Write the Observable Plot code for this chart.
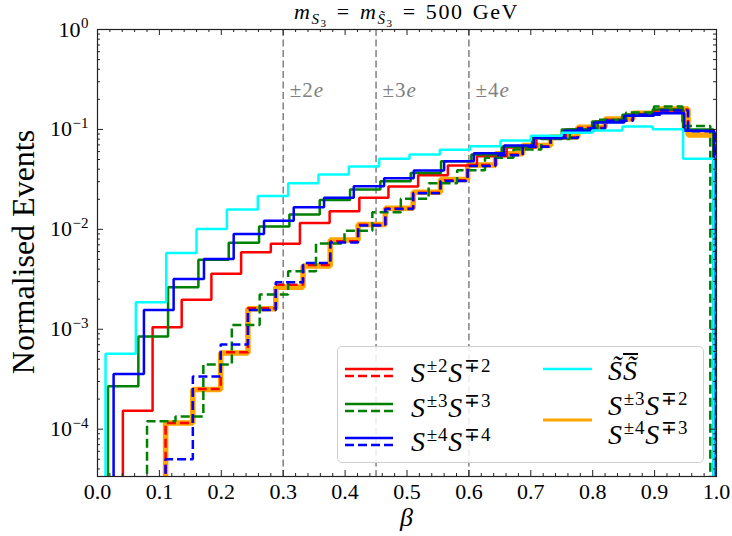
<!DOCTYPE html>
<html><head><meta charset="utf-8">
<script src="https://cdn.jsdelivr.net/npm/d3@7"></script>
<script src="https://cdn.jsdelivr.net/npm/@observablehq/plot@0.6"></script>
<style>
body{margin:0;background:#fff;}
#wrap{position:relative;width:732px;height:536px;font-family:"Liberation Serif",serif;color:#000;overflow:hidden;}
#wrap svg{position:absolute;left:0;top:0;}
.ov{position:absolute;white-space:nowrap;line-height:1;}
.sup{position:relative;font-style:normal;}
</style></head><body><div id="wrap"></div>
<script>
// ---------------- data ----------------
const xMajor = [0,0.1,0.2,0.3,0.4,0.5,0.6,0.7,0.8,0.9,1.0];
const xTickLabels = ["0.0","0.1","0.2","0.3","0.4","0.5","0.6","0.7","0.8","0.9","1.0"];
const yMajor = [1,1e-1,1e-2,1e-3,1e-4];
const yTickExps = ["0","\u22121","\u22122","\u22123","\u22124"];
const chargeLines = [0.3,0.45,0.6];
const chargeLabels = ["\u00b12","\u00b13","\u00b14"];

// bin edges (per histogram) and normalised event counts
const redSolidEdges = [0.041,0.089,0.136,0.184,0.232,0.280,0.327,0.375,0.423,0.470,0.518,0.566,0.613,0.661,0.709,0.757,0.804,0.852,0.900,0.947,0.995];
const redSolid = [1.53e-4,1.05e-3,1.97e-3,3.59e-3,5.9e-3,7.16e-3,1.16e-2,1.52e-2,2.07e-2,2.68e-2,3.48e-2,4.35e-2,5.4e-2,6.6e-2,8.2e-2,0.100,0.120,0.140,0.155,0.098];
const greenSolidEdges = [0.017,0.066,0.114,0.163,0.212,0.261,0.310,0.359,0.408,0.457,0.506,0.555,0.604,0.653,0.702,0.750,0.799,0.848,0.897,0.946,0.995];
const greenSolid = [2.69e-4,8.45e-4,2.64e-3,4.95e-3,7.33e-3,1.07e-2,1.41e-2,1.97e-2,2.5e-2,3.03e-2,3.67e-2,4.8e-2,5.6e-2,6.7e-2,8.2e-2,0.100,0.120,0.140,0.158,0.100];
const blueSolidEdges = [0.026,0.075,0.123,0.172,0.220,0.269,0.317,0.366,0.414,0.463,0.511,0.560,0.608,0.657,0.705,0.754,0.802,0.851,0.899,0.948,0.996];
const blueSolid = [3.56e-4,1.56e-3,3.19e-3,5.06e-3,9.0e-3,1.22e-2,1.66e-2,2.07e-2,2.70e-2,3.25e-2,3.88e-2,4.8e-2,5.78e-2,6.9e-2,8.2e-2,0.097,0.117,0.137,0.145,0.097];
const cyanEdges = [0.013,0.062,0.111,0.160,0.209,0.259,0.308,0.357,0.406,0.455,0.504,0.553,0.602,0.651,0.700,0.750,0.799,0.848,0.897,0.946,0.995];
const cyanVals = [5.7e-4,1.86e-3,5.8e-3,1.01e-2,1.58e-2,2.15e-2,2.89e-2,3.54e-2,4.26e-2,5.08e-2,5.61e-2,6.25e-2,6.79e-2,7.74e-2,8.63e-2,9.25e-2,9.75e-2,0.107,0.1005,0.0508];
const dashedEdges = [0.110,0.154,0.199,0.243,0.288,0.332,0.376,0.421,0.465,0.510,0.554,0.598,0.643,0.687,0.732,0.776,0.820,0.865,0.909,0.954,0.998];
const redDashed = [1.15e-4,2.53e-4,5.89e-4,1.62e-3,2.79e-3,4.4e-3,7.6e-3,1.11e-2,1.62e-2,2.32e-2,3.1e-2,4.4e-2,5.6e-2,6.8e-2,8.3e-2,0.104,0.125,0.143,0.158,0.097];
const blueDashed = [5.0e-5,3.36e-4,7.03e-4,1.56e-3,2.95e-3,4.6e-3,7.4e-3,1.09e-2,1.6e-2,2.3e-2,3.05e-2,4.3e-2,5.5e-2,6.7e-2,8.2e-2,0.102,0.122,0.140,0.155,0.096];
const orangeVals = [1.15e-4,2.5e-4,5.8e-4,1.6e-3,2.64e-3,4.3e-3,7.8e-3,1.12e-2,1.63e-2,2.35e-2,3.15e-2,4.4e-2,5.7e-2,6.9e-2,8.4e-2,0.105,0.127,0.145,0.160,0.088];
const greenDashedEdges = [0.080,0.126,0.171,0.217,0.262,0.308,0.353,0.399,0.444,0.490,0.535,0.581,0.626,0.672,0.717,0.763,0.808,0.854,0.899,0.945,0.990];
const greenDashed = [1.2e-4,1.34e-4,4.44e-4,1.1e-3,2.23e-3,3.81e-3,7.2e-3,9.7e-3,1.48e-2,2.02e-2,2.89e-2,3.9e-2,5.2e-2,6.3e-2,8.0e-2,0.100,0.125,0.148,0.170,0.108];

// ---------------- build ----------------
const W = 732, H = 536, mL = 97, mR = 16, mT = 29, mB = 60;
const plotW = W - mL - mR, plotH = H - mT - mB;
const yLow = 3.36e-5;
const FLOOR = 1e-9;
function stepPoints(edges, vals) {
  const pts = [{x: edges[0], y: FLOOR}];
  vals.forEach((v, i) => { pts.push({x: edges[i], y: v}); pts.push({x: edges[i + 1], y: v}); });
  pts.push({x: edges[edges.length - 1], y: FLOOR});
  return pts;
}
const series = [
  {edges: dashedEdges, vals: orangeVals, color: "#ffa500", width: 5.5, dash: null},
  {edges: redSolidEdges, vals: redSolid, color: "#ff0000", width: 2.5, dash: null},
  {edges: dashedEdges, vals: redDashed, color: "#ff0000", width: 2.5, dash: "9,4"},
  {edges: greenSolidEdges, vals: greenSolid, color: "#008000", width: 2.5, dash: null},
  {edges: greenDashedEdges, vals: greenDashed, color: "#008000", width: 2.5, dash: "9,4"},
  {edges: blueSolidEdges, vals: blueSolid, color: "#0000ff", width: 2.5, dash: null},
  {edges: dashedEdges, vals: blueDashed, color: "#0000ff", width: 2.5, dash: "9,4"},
  {edges: cyanEdges, vals: cyanVals, color: "#00ffff", width: 2.5, dash: null}
];
const xMinor = d3.range(0, 1.0001, 0.02).filter(v => Math.abs(v * 10 - Math.round(v * 10)) > 1e-6);
const yMinor = [];
for (let e = -5; e < 0; e++) for (let m = 2; m <= 9; m++) { const v = m * Math.pow(10, e); if (v >= yLow && v < 1) yMinor.push(v); }

const cv = document.createElement("canvas").getContext("2d");
function tw(txt, size) { cv.font = `${size}px "Liberation Serif"`; return cv.measureText(txt).width; }
const supSize = 15, tickFont = 22, pad = 9;
const supWZero = tw(yTickExps[0], supSize), supWNeg = tw(yTickExps[1], supSize);

const tickColor = "#222";
const marks = [];
marks.push(Plot.ruleX(chargeLines, {x: d => d, stroke: "#808080", strokeWidth: 1.5, strokeDasharray: "7,3.5"}));
series.forEach(s => {
  marks.push(Plot.line(stepPoints(s.edges, s.vals), {x: "x", y: "y", stroke: s.color, strokeWidth: s.width, strokeDasharray: s.dash, clip: true, strokeLinejoin: "miter", strokeLinecap: "butt"}));
});
marks.push(
  Plot.tickX(xMajor, {x: d => d, insetTop: plotH - 6, stroke: tickColor}),
  Plot.tickX(xMajor, {x: d => d, insetBottom: plotH - 6, stroke: tickColor}),
  Plot.tickX(xMinor, {x: d => d, insetTop: plotH - 3, stroke: tickColor}),
  Plot.tickX(xMinor, {x: d => d, insetBottom: plotH - 3, stroke: tickColor}),
  Plot.tickY(yMajor, {y: d => d, insetRight: plotW - 6, stroke: tickColor}),
  Plot.tickY(yMajor, {y: d => d, insetLeft: plotW - 6, stroke: tickColor}),
  Plot.tickY(yMinor, {y: d => d, insetRight: plotW - 3, stroke: tickColor}),
  Plot.tickY(yMinor, {y: d => d, insetLeft: plotW - 3, stroke: tickColor}),
  Plot.frame({stroke: "#222", strokeWidth: 1.2}),
  Plot.axisX(xMajor, {tickSize: 0, tickPadding: 7, tickFormat: (d, i) => xTickLabels[i], fontSize: tickFont, label: null, fill: "#000"}),
  Plot.text(yMajor.slice(0, 1), {y: d => d, frameAnchor: "left", text: () => "10", textAnchor: "end", dx: -(pad + supWZero + 0.5), fontSize: tickFont, fill: "#000"}),
  Plot.text(yMajor.slice(1), {y: d => d, frameAnchor: "left", text: () => "10", textAnchor: "end", dx: -(pad + supWNeg + 0.5), fontSize: tickFont, fill: "#000"}),
  Plot.text(yMajor, {y: d => d, frameAnchor: "left", text: (d, i) => yTickExps[i], textAnchor: "end", dx: -pad, dy: -6, fontSize: supSize, fill: "#000"})
);

const plot = Plot.plot({
  width: W, height: H,
  marginLeft: mL, marginRight: mR, marginTop: mT, marginBottom: mB,
  x: {domain: [0, 1]},
  y: {type: "log", domain: [yLow, 1], axis: null},
  style: {fontFamily: "Liberation Serif", background: "transparent", overflow: "visible"},
  marks
});
const wrap = document.getElementById("wrap");
wrap.appendChild(plot);
const sx = plot.scale("x"), sy = plot.scale("y");

function ov(html, css) { const d = document.createElement("div"); d.className = "ov"; d.innerHTML = html; Object.assign(d.style, css); wrap.appendChild(d); return d; }

// title
ov(`<i>m</i><span style="position:relative;top:5px;font-size:15px"><i>S</i><span style="position:relative;top:3px;font-size:11px">3</span></span> = <i>m</i><span style="position:relative;top:5px;font-size:15px"><i>S&#x303;</i><span style="position:relative;top:3px;font-size:11px">3</span></span> = 500 GeV`,
  {left: sx.apply(0.5) + "px", top: "1px", fontSize: "22px", letterSpacing: "1.6px", wordSpacing: "2px", transform: "translateX(-50%)"});
// y label
ov("Normalised Events", {left: "23px", top: "252px", fontSize: "32px", transform: "translate(-50%,-50%) rotate(-90deg)"});
// x label
ov("<i>&beta;</i>", {left: sx.apply(0.5) + "px", top: "505px", fontSize: "26px", transform: "translateX(-50%)"});
// charge annotations
chargeLines.forEach((c, i) => {
  ov(`${chargeLabels[i]}<i>e</i>`, {left: (sx.apply(c) + 7) + "px", top: "80px", fontSize: "21px", letterSpacing: "1px", color: "#808080"});
});

// legend
const lg = document.createElement("div");
Object.assign(lg.style, {position: "absolute", left: "337px", top: "346px", width: "367px", height: "117px", border: "1px solid #cfcfcf", borderRadius: "5px", background: "rgba(255,255,255,0.85)", boxSizing: "border-box"});
wrap.appendChild(lg);
const NS = "http://www.w3.org/2000/svg";
const lsvg = document.createElementNS(NS, "svg");
lsvg.setAttribute("width", W); lsvg.setAttribute("height", H);
lsvg.style.position = "absolute"; lsvg.style.left = "0"; lsvg.style.top = "0";
wrap.appendChild(lsvg);
function hline(x1, x2, y, color, dash, w) {
  const l = document.createElementNS(NS, "line");
  l.setAttribute("x1", x1); l.setAttribute("x2", x2); l.setAttribute("y1", y); l.setAttribute("y2", y);
  l.setAttribute("stroke", color); l.setAttribute("stroke-width", w || 2.5);
  if (dash) l.setAttribute("stroke-dasharray", dash);
  lsvg.appendChild(l);
}
const legendPairs = [
  {color: "#ff0000", a: "\u00b12", b: "\u22132", y: 369},
  {color: "#008000", a: "\u00b13", b: "\u22133", y: 404},
  {color: "#0000ff", a: "\u00b14", b: "\u22134", y: 438}
];
function sLabel(a, b) {
  return `<i>S</i><span class="sup" style="font-size:19px;top:-10px;margin-left:1px">${a}</span><i>S</i><span class="sup" style="font-size:19px;top:-10px;margin-left:1px">${b}</span>`;
}
legendPairs.forEach(p => {
  hline(345, 393, p.y, p.color, null);
  hline(345, 393, p.y + 7, p.color, "9,4");
  ov(sLabel(p.a, p.b), {left: "411px", top: (p.y - 10) + "px", fontSize: "28px", letterSpacing: "0.8px"});
});
hline(543, 592, 369, "#00ffff", null);
ov(`<i>S&#x303;</i><i style="text-decoration:overline;text-decoration-thickness:2px">S&#x303;</i>`, {left: "608px", top: "357px", fontSize: "28px", letterSpacing: "1px"});
hline(543, 592, 420, "#ffa500", null, 3);
ov(sLabel("\u00b13", "\u22132"), {left: "608px", top: "392px", fontSize: "28px", letterSpacing: "0.8px"});
ov(sLabel("\u00b14", "\u22133"), {left: "608px", top: "421px", fontSize: "28px", letterSpacing: "0.8px"});
</script></body></html>
